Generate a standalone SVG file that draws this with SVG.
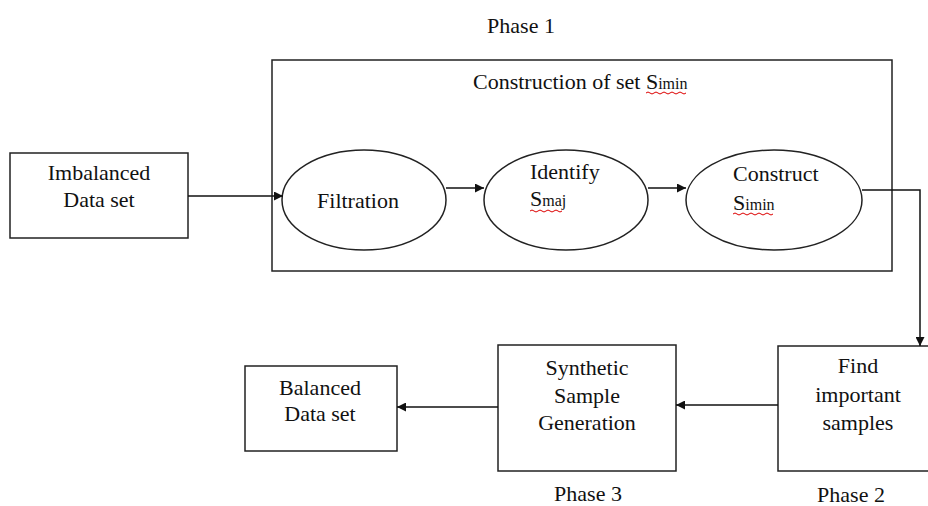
<svg xmlns="http://www.w3.org/2000/svg" width="928" height="506" viewBox="0 0 928 506" font-family="'Liberation Serif', 'DejaVu Serif', 'Times New Roman', serif">
<style>
text{font-family:"Liberation Serif","DejaVu Serif","Times New Roman",serif;font-size:22px;fill:#111}
.c{text-anchor:middle}
.sub{font-size:16px}
.box{fill:#fff;stroke:#222;stroke-width:1.5}
.line{fill:none;stroke:#111;stroke-width:1.5}
.sq{fill:none;stroke:#d00;stroke-width:1}
</style>
<defs>
<marker id="ah" viewBox="0 0 10 10" refX="10" refY="5" markerWidth="9" markerHeight="9" markerUnits="userSpaceOnUse" orient="auto"><path d="M0,0 L10,5 L0,10 Z" fill="#111"/></marker>
</defs>
<rect width="928" height="506" fill="#fff"/>
<text class="c" x="521" y="33">Phase 1</text>
<g id="phase1">
<rect class="box" x="272" y="60" width="620" height="211"/>
<text x="473" y="89">Construction of set S<tspan class="sub">imin</tspan></text>
<path class="sq" d="M646,93 q2,-2 4,0 t4,0 t4,0 t4,0 t4,0 t4,0 t4,0 t4,0 t4,0 t4,0"/>
</g>
<g id="imbalanced">
<rect class="box" x="10" y="153" width="178" height="85"/>
<text class="c" x="99" y="180">Imbalanced</text>
<text class="c" x="99" y="207">Data set</text>
</g>
<g id="filtration">
<ellipse class="box" cx="364" cy="200" rx="82" ry="50"/>
<text class="c" x="358" y="208">Filtration</text>
</g>
<g id="identify">
<ellipse class="box" cx="566" cy="200" rx="82" ry="50"/>
<text x="530" y="179">Identify</text>
<text x="530" y="206">S<tspan class="sub">maj</tspan></text>
<path class="sq" d="M530,211 q2,-2 4,0 t4,0 t4,0 t4,0 t4,0 t4,0 t4,0 t4,0"/>
</g>
<g id="construct">
<ellipse class="box" cx="774" cy="200" rx="88" ry="50"/>
<text x="733" y="181">Construct</text>
<text x="733" y="210">S<tspan class="sub">imin</tspan></text>
<path class="sq" d="M733,214 q2,-2 4,0 t4,0 t4,0 t4,0 t4,0 t4,0 t4,0 t4,0 t4,0 t4,0"/>
</g>
<g id="find">
<rect class="box" x="778" y="346" width="160" height="125"/>
<text class="c" x="858" y="373">Find</text>
<text class="c" x="858" y="402">important</text>
<text class="c" x="858" y="430">samples</text>
</g>
<text class="c" x="851" y="502">Phase 2</text>
<g id="synthetic">
<rect class="box" x="498" y="345" width="178" height="126"/>
<text class="c" x="587" y="375">Synthetic</text>
<text class="c" x="587" y="403">Sample</text>
<text class="c" x="587" y="430">Generation</text>
</g>
<text class="c" x="588" y="501">Phase 3</text>
<g id="balanced">
<rect class="box" x="245" y="366" width="152" height="85"/>
<text class="c" x="320" y="395">Balanced</text>
<text class="c" x="320" y="421">Data set</text>
</g>
<g id="connectors">
<line class="line" x1="188" y1="196" x2="283" y2="196" marker-end="url(#ah)"/>
<line class="line" x1="446" y1="188" x2="484" y2="188" marker-end="url(#ah)"/>
<line class="line" x1="648" y1="188" x2="686" y2="188" marker-end="url(#ah)"/>
<polyline class="line" points="862,190 920,190 920,346" marker-end="url(#ah)"/>
<line class="line" x1="778" y1="405" x2="676" y2="405" marker-end="url(#ah)"/>
<line class="line" x1="498" y1="407" x2="397" y2="407" marker-end="url(#ah)"/>
</g>
</svg>
